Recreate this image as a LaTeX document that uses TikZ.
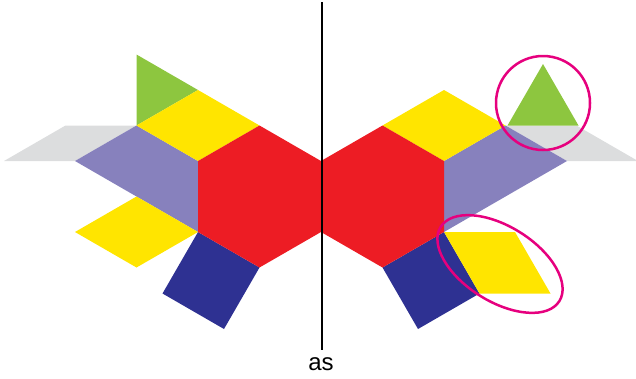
\documentclass[tikz,border=0pt]{standalone}
\usepackage{fontspec}
\setmainfont{Liberation Sans}
\definecolor{pbred}{HTML}{ED1C24}
\definecolor{pbyellow}{HTML}{FFE500}
\definecolor{pbgreen}{HTML}{8DC63F}
\definecolor{pblav}{HTML}{8781BD}
\definecolor{pbblue}{HTML}{2E3192}
\definecolor{pbgray}{HTML}{DCDDDE}
\definecolor{pbmag}{HTML}{E6007E}
\tikzset{
  hexa/.style={fill=pbred},
  rhomb/.style={fill=pbyellow},
  tri/.style={fill=pbgreen},
  trap/.style={fill=pblav},
  sq/.style={fill=pbblue},
  thin/.style={fill=pbgray},
  ring/.style={draw=pbmag, line width=2.5pt},
  axisline/.style={draw=black, line width=2.6pt},
}
\begin{document}
\begin{tikzpicture}[x=1pt,y=-1pt]
\useasboundingbox (0,0) rectangle (636,378);
% left side
\fill[thin] (136.5,125.5) -- (65.5,125.5) -- (4,161) -- (75,161) -- cycle;
\fill[trap] (75,161) -- (136.5,125.5) -- (198,161) -- (198,232) -- cycle;
\fill[tri] (136.5,125.5) -- (198,90) -- (136.5,54.5) -- cycle;
\fill[rhomb] (198,161) -- (259.5,125.5) -- (198,90) -- (136.5,125.5) -- cycle;
\fill[rhomb] (198,232) -- (136.5,196.5) -- (75,232) -- (136.5,267.5) -- cycle;
\fill[sq] (198,232) -- (259.5,267.5) -- (224,329) -- (162.5,293.5) -- cycle;
\fill[hexa] (198,161) -- (259.5,125.5) -- (321,161) -- (321,232) -- (259.5,267.5) -- (198,232) -- cycle;
% right side
\fill[thin] (505.5,125.5) -- (576.5,125.5) -- (638,161) -- (567,161) -- cycle;
\fill[trap] (567,161) -- (505.5,125.5) -- (444,161) -- (444,232) -- cycle;
\fill[tri] (507.5,125.5) -- (578.5,125.5) -- (543,64) -- cycle;
\fill[rhomb] (444,161) -- (382.5,125.5) -- (444,90) -- (505.5,125.5) -- cycle;
\fill[sq] (444,232) -- (382.5,267.5) -- (418,329) -- (479.5,293.5) -- cycle;
\fill[rhomb] (444,232) -- (515,232) -- (550.5,293.5) -- (479.5,293.5) -- cycle;
\fill[hexa] (444,161) -- (382.5,125.5) -- (321,161) -- (321,232) -- (382.5,267.5) -- (444,232) -- cycle;
% circled mistakes
\draw[ring] (543,103) circle [radius=47];
\draw[ring, shift={(500,264)}, rotate=-32] (0,0) ellipse [x radius=70, y radius=37.5];
% line of symmetry
\coordinate (top) at (322,2);
\node[font=\fontsize{24}{24}\selectfont, inner sep=0pt] (lbl) at (321,364) {as};
\coordinate (bot) at (322,350);
\draw[axisline] (top) -- (bot);
\end{tikzpicture}
\end{document}
